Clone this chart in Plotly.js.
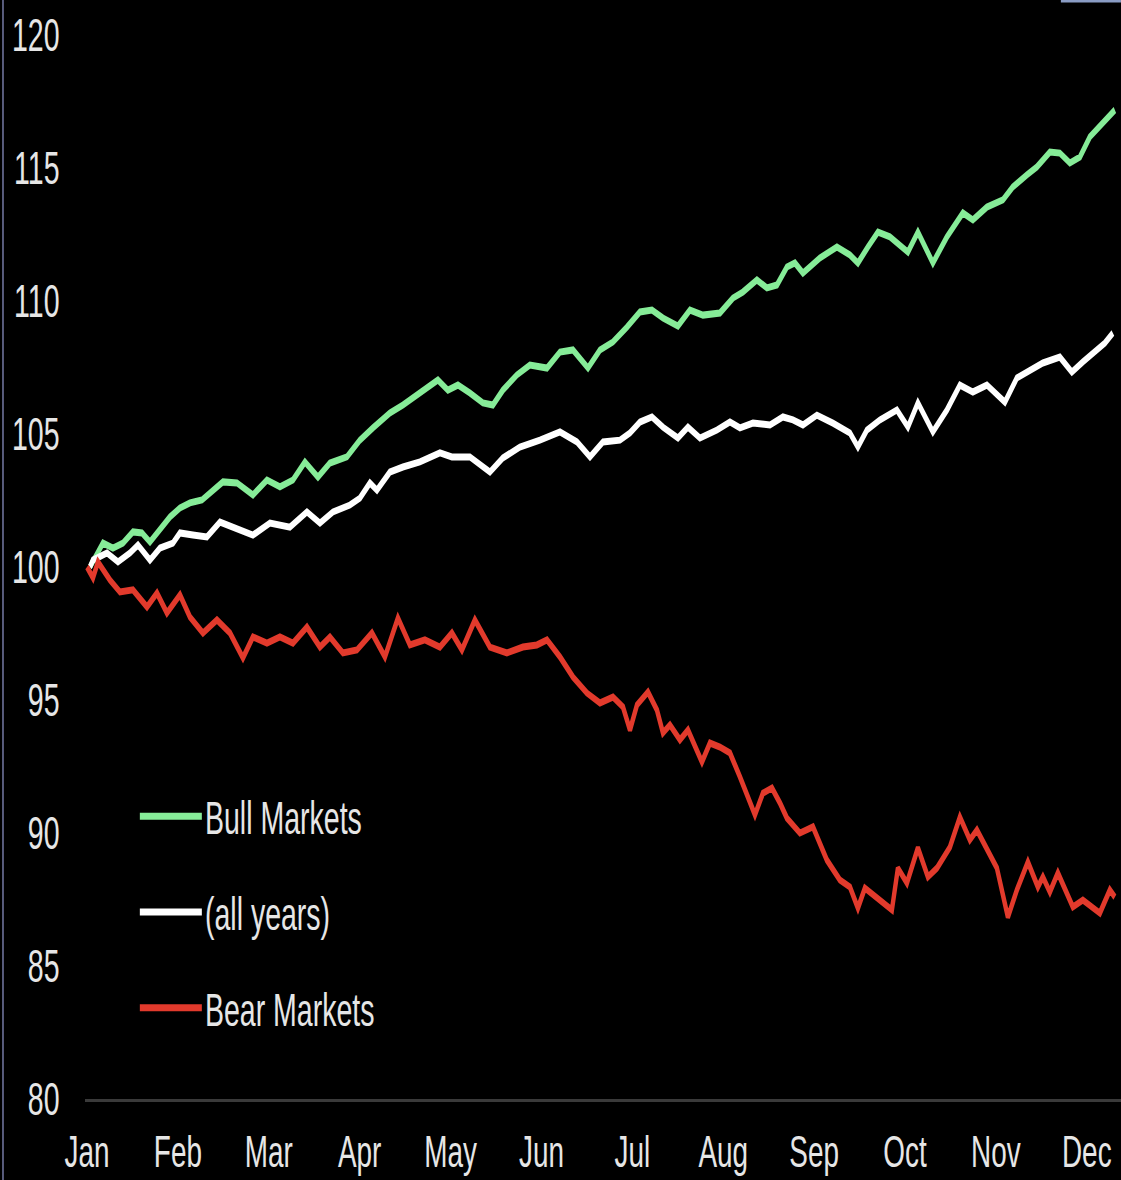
<!DOCTYPE html>
<html>
<head>
<meta charset="utf-8">
<script src="https://cdn.plot.ly/plotly-3.0.1.min.js"></script>
<style>
  html, body { margin: 0; padding: 0; background: #000; overflow: hidden; }
  #wrap { position: relative; width: 1121px; height: 1180px; overflow: hidden; background: #000; }
  #chart { position: absolute; left: 0; top: 0; width: 1808px; height: 1180px;
           transform: scaleX(0.62); transform-origin: 0 0; }
</style>
</head>
<body>
<div id="wrap"><div id="chart"></div></div>
<script>
// x in months since Jan 1 (0 = Jan, 11 = Dec)
const monthLabels = ["Jan","Feb","Mar","Apr","May","Jun","Jul","Aug","Sep","Oct","Nov","Dec"];
const monthTicks = [0,1,2,3,4,5,6,7,8,9,10,11];

const bullX = [0.033,0.176,0.286,0.396,0.506,0.605,0.693,0.803,0.913,1.023,1.133,1.265,1.386,1.496,1.650,1.760,1.826,1.980,2.123,2.266,2.398,2.541,2.673,2.860,3.003,3.146,3.333,3.476,3.663,3.861,3.971,4.081,4.213,4.356,4.466,4.576,4.730,4.873,5.061,5.204,5.347,5.512,5.644,5.787,5.941,6.084,6.216,6.337,6.502,6.634,6.777,6.964,7.107,7.217,7.371,7.481,7.591,7.701,7.789,7.877,8.064,8.251,8.394,8.482,8.592,8.702,8.834,9.032,9.142,9.307,9.461,9.637,9.747,9.901,10.077,10.187,10.341,10.451,10.594,10.704,10.814,10.924,11.034,11.177,11.309];
const bullY = [100.00,100.90,100.71,100.90,101.32,101.28,100.94,101.39,101.88,102.22,102.41,102.52,102.89,103.20,103.16,102.89,102.71,103.27,103.01,103.27,103.95,103.38,103.91,104.14,104.77,105.23,105.79,106.09,106.54,107.03,106.65,106.84,106.54,106.17,106.09,106.65,107.22,107.59,107.48,108.08,108.16,107.48,108.16,108.46,109.02,109.59,109.66,109.36,109.06,109.66,109.47,109.55,110.11,110.34,110.79,110.49,110.60,111.28,111.43,111.05,111.62,112.03,111.73,111.43,112.03,112.59,112.41,111.84,112.59,111.43,112.41,113.31,113.05,113.53,113.80,114.29,114.74,115.04,115.60,115.56,115.19,115.41,116.17,116.69,117.18];

const allX = [0.033,0.066,0.220,0.341,0.473,0.561,0.693,0.803,0.946,1.023,1.166,1.320,1.463,1.606,1.826,2.013,2.233,2.420,2.563,2.706,2.893,3.003,3.113,3.190,3.333,3.476,3.663,3.883,4.015,4.213,4.433,4.576,4.763,4.983,5.204,5.391,5.534,5.677,5.864,5.974,6.084,6.216,6.337,6.502,6.612,6.744,6.931,7.074,7.184,7.327,7.514,7.657,7.767,7.877,8.031,8.207,8.394,8.482,8.581,8.724,8.911,9.032,9.142,9.307,9.461,9.604,9.747,9.901,10.099,10.231,10.374,10.517,10.704,10.836,10.957,11.111,11.199,11.287];
const allY = [100.00,100.26,100.53,100.19,100.53,100.83,100.26,100.71,100.90,101.28,101.20,101.13,101.69,101.50,101.20,101.65,101.50,102.07,101.65,102.07,102.33,102.59,103.16,102.89,103.57,103.76,103.95,104.29,104.14,104.14,103.57,104.10,104.51,104.77,105.08,104.70,104.14,104.70,104.77,105.04,105.45,105.64,105.26,104.85,105.26,104.85,105.15,105.45,105.23,105.41,105.34,105.64,105.53,105.34,105.71,105.41,105.04,104.51,105.15,105.53,105.90,105.26,106.17,105.08,105.90,106.84,106.58,106.84,106.20,107.11,107.41,107.67,107.89,107.33,107.71,108.16,108.42,108.80];

const bearX = [0.000,0.066,0.121,0.253,0.363,0.506,0.660,0.770,0.880,1.023,1.133,1.276,1.430,1.573,1.716,1.826,1.980,2.123,2.266,2.420,2.563,2.673,2.816,2.970,3.135,3.278,3.421,3.553,3.718,3.883,4.015,4.125,4.268,4.433,4.620,4.796,4.950,5.061,5.204,5.347,5.501,5.644,5.787,5.897,5.974,6.051,6.172,6.271,6.337,6.414,6.524,6.612,6.766,6.854,6.964,7.074,7.184,7.349,7.437,7.536,7.624,7.701,7.844,7.987,8.141,8.284,8.394,8.482,8.559,8.724,8.856,8.922,9.021,9.142,9.252,9.351,9.494,9.604,9.714,9.791,9.901,10.011,10.132,10.231,10.352,10.462,10.517,10.594,10.682,10.847,10.957,11.144,11.254,11.309];
const bearY = [100.00,99.59,100.19,99.51,99.06,99.14,98.50,99.02,98.27,98.95,98.12,97.52,98.01,97.52,96.58,97.37,97.14,97.37,97.14,97.74,96.99,97.37,96.77,96.88,97.52,96.62,98.08,97.07,97.26,96.99,97.52,96.88,98.01,96.99,96.77,96.99,97.07,97.26,96.62,95.86,95.26,94.89,95.11,94.74,93.87,94.81,95.30,94.62,93.76,94.06,93.50,93.87,92.67,93.38,93.23,93.01,92.11,90.68,91.50,91.69,91.13,90.56,90.00,90.23,88.98,88.23,87.97,87.18,87.93,87.48,87.11,88.68,88.12,89.44,88.35,88.68,89.47,90.60,89.74,90.11,89.36,88.68,86.84,87.86,88.91,87.97,88.35,87.78,88.50,87.22,87.48,86.99,87.86,87.59];

const yTicks = [80,85,90,95,100,105,110,115,120];

const FONT = "Liberation Sans, Arial, Helvetica, sans-serif";

const traces = [
  {x: bullX, y: bullY, name: "Bull Markets", mode: "lines", legendgroup: "a",
   line: {color: "#86ec98", width: 7}},
  {x: allX, y: allY, name: "(all years)", mode: "lines", legendgroup: "b",
   line: {color: "#ffffff", width: 7}},
  {x: bearX, y: bearY, name: "Bear Markets", mode: "lines", legendgroup: "c",
   line: {color: "#e23a2c", width: 7}}
];

const layout = {
  width: 1808, height: 1180,
  paper_bgcolor: "#000", plot_bgcolor: "#000",
  margin: {l: 137, r: 0, t: 35, b: 81, pad: 0},
  font: {family: FONT, size: 46, color: "#e6e6e6"},
  showlegend: true,
  legend: {x: 0.05, y: 0.30, xanchor: "left", yanchor: "top",
           bgcolor: "rgba(0,0,0,0)", font: {family: FONT, size: 46, color: "#e6e6e6"},
           itemwidth: 100, tracegroupgap: 33, traceorder: "grouped"},
  xaxis: {range: [-0.0225, 11.376], tickvals: monthTicks, ticktext: monthLabels,
          showgrid: false, zeroline: false, showline: true, linecolor: "#3a3a3a", linewidth: 3,
          ticks: "", ticklabelstandoff: 11, tickfont: {family: FONT, size: 45, color: "#e6e6e6"},
          fixedrange: true},
  yaxis: {range: [80, 120], tickvals: yTicks, showgrid: false, zeroline: false, showline: false,
          ticks: "", ticklabelstandoff: 40, tickfont: {family: FONT, size: 46, color: "#e6e6e6"},
          fixedrange: true},
  shapes: [
    {type: "line", xref: "paper", yref: "paper", x0: -0.0791, x1: -0.0791, y0: -0.08, y1: 1.04,
     line: {color: "#5e6284", width: 3}},
    {type: "line", xref: "paper", yref: "paper", x0: 0.942, x1: 1.0, y0: 1.032, y1: 1.032,
     line: {color: "#8a9cc4", width: 3}}
  ]
};

Plotly.newPlot("chart", traces, layout, {displayModeBar: false, staticPlot: true});
</script>
</body>
</html>
